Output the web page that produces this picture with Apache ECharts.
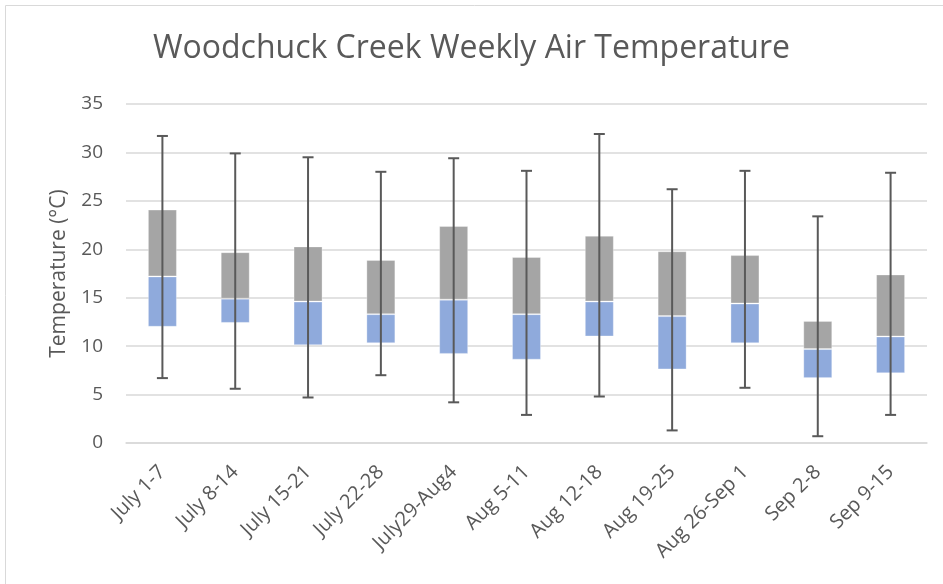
<!DOCTYPE html>
<html>
<head>
<meta charset="utf-8">
<script src="https://cdn.jsdelivr.net/npm/echarts@6/dist/echarts.min.js"></script>
<style>
  html, body { margin: 0; padding: 0; background: #fff; }
  #canvas { width: 943px; height: 584px; }
</style>
</head>
<body>
<div id="canvas"></div>
<script>
const weeks = ['July 1-7', 'July 8-14', 'July 15-21', 'July 22-28', 'July29-Aug4', 'Aug 5-11',
  'Aug 12-18', 'Aug 19-25', 'Aug 26-Sep 1', 'Sep 2-8', 'Sep 9-15'];
const minTemp = [6.7, 5.6, 4.7, 7.0, 4.2, 2.9, 4.8, 1.3, 5.7, 0.7, 2.9];
const q1Temp = [12.0, 12.4, 10.1, 10.3, 9.2, 8.6, 11.0, 7.6, 10.3, 6.7, 7.2];
const medianTemp = [17.2, 14.9, 14.6, 13.3, 14.8, 13.3, 14.6, 13.1, 14.4, 9.7, 11.0];
const q3Temp = [24.1, 19.7, 20.3, 18.9, 22.4, 19.2, 21.4, 19.8, 19.4, 12.6, 17.4];
const maxTemp = [31.7, 29.9, 29.5, 28.0, 29.4, 28.1, 31.9, 26.2, 28.1, 23.4, 27.9];
const yTicks = [0, 5, 10, 15, 20, 25, 30, 35];

const chart = echarts.init(document.getElementById('canvas'));
const textColor = '#595959';
const font = '"Open Sans", sans-serif';

// lower box = q1..median, upper box = median..q3
const lowerBox = medianTemp.map((m, i) => +(m - q1Temp[i]).toFixed(2));
const upperBox = q3Temp.map((q, i) => +(q - medianTemp[i]).toFixed(2));
const whiskers = weeks.map((w, i) => [i, minTemp[i], maxTemp[i]]);

const option = {
  animation: false,
  title: {
    text: 'Woodchuck Creek Weekly Air Temperature',
    left: 'center',
    top: 28,
    textStyle: { color: textColor, fontFamily: font, fontWeight: 'normal', fontSize: 32 },
  },
  graphic: [{
    type: 'rect',
    shape: { x: 5.5, y: 5.5, width: 1000, height: 1000 },
    style: { fill: 'none', stroke: '#D9D9D9', lineWidth: 1 },
    silent: true,
  }],
  grid: { left: 126, right: 16, top: 104, bottom: 141 },
  xAxis: {
    type: 'category',
    data: weeks,
    axisTick: { show: false },
    axisLine: { lineStyle: { color: '#D9D9D9', width: 1.5 } },
    axisLabel: {
      rotate: 45,
      margin: 26,
      color: textColor,
      fontFamily: font,
      fontSize: 20,
      interval: 0,
    },
  },
  yAxis: {
    type: 'value',
    min: yTicks[0],
    max: yTicks[yTicks.length - 1],
    interval: 5,
    name: 'Temperature (°C)',
    nameLocation: 'middle',
    nameGap: 56,
    nameTextStyle: { color: textColor, fontFamily: font, fontSize: 21 },
    axisLine: { show: false },
    axisTick: { show: false },
    axisLabel: { color: textColor, fontFamily: font, fontSize: 19, margin: 23 },
    splitLine: { lineStyle: { color: '#D9D9D9', width: 1.5 } },
  },
  series: [
    {
      name: 'base',
      type: 'bar',
      stack: 'box',
      data: q1Temp,
      barWidth: 29,
      itemStyle: { color: 'transparent' },
      silent: true,
    },
    {
      name: 'Q1-Median',
      type: 'bar',
      stack: 'box',
      data: lowerBox,
      itemStyle: { color: '#8FAADC', borderColor: 'rgba(255,255,255,0.3)', borderWidth: 1 },
    },
    {
      name: 'Median-Q3',
      type: 'bar',
      stack: 'box',
      data: upperBox,
      itemStyle: { color: '#A5A5A5', borderColor: 'rgba(255,255,255,0.3)', borderWidth: 1 },
    },
    {
      name: 'Range',
      type: 'custom',
      z: 5,
      data: whiskers,
      renderItem(params, api) {
        const x = api.value(0);
        const lo = api.coord([x, api.value(1)]);
        const hi = api.coord([x, api.value(2)]);
        const cap = 5.5;
        const style = { stroke: '#595959', lineWidth: 2 };
        return {
          type: 'group',
          children: [
            { type: 'line', shape: { x1: lo[0], y1: lo[1], x2: hi[0], y2: hi[1] }, style },
            { type: 'line', shape: { x1: lo[0] - cap, y1: lo[1], x2: lo[0] + cap, y2: lo[1] }, style },
            { type: 'line', shape: { x1: hi[0] - cap, y1: hi[1], x2: hi[0] + cap, y2: hi[1] }, style },
          ],
        };
      },
    },
  ],
};

chart.setOption(option);

window.onresize = chart.resize;
</script>
</body>
</html>
